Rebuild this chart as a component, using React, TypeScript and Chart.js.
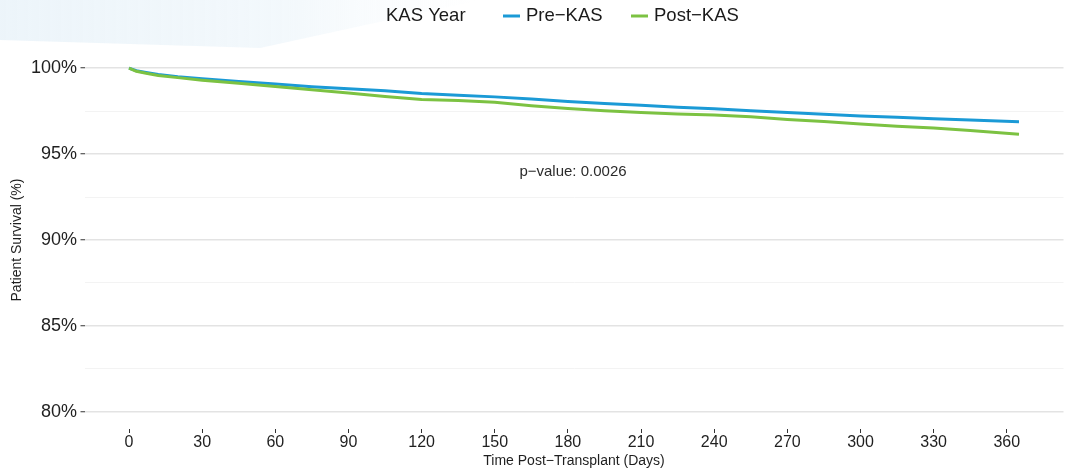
import React, { useEffect, useRef } from "react";
import { Chart, registerables } from "chart.js";

Chart.register(...registerables);

const legendTitle = "KAS Year";
const seriesNames = ["Pre−KAS", "Post−KAS"];
const seriesColors = ["#1b9ad6", "#7cc242"];

const days = [0, 3, 7, 12, 20, 30, 45, 60, 75, 90, 105, 120, 135, 150, 165, 180, 195, 210, 225, 240, 255, 270, 285, 300, 315, 330, 345, 365];
const preKas = [100, 99.85, 99.75, 99.63, 99.5, 99.39, 99.22, 99.08, 98.92, 98.8, 98.68, 98.52, 98.43, 98.33, 98.2, 98.06, 97.95, 97.84, 97.73, 97.64, 97.52, 97.42, 97.32, 97.22, 97.14, 97.06, 96.98, 96.88];
const postKas = [100, 99.82, 99.7, 99.58, 99.45, 99.3, 99.12, 98.94, 98.75, 98.55, 98.35, 98.18, 98.12, 98.02, 97.82, 97.66, 97.52, 97.42, 97.33, 97.28, 97.17, 97.02, 96.9, 96.75, 96.62, 96.52, 96.38, 96.15];

const xTicks = [0, 30, 60, 90, 120, 150, 180, 210, 240, 270, 300, 330, 360];
const yMajorTicks = [80, 85, 90, 95, 100];
const yMinorTicks = [82.5, 87.5, 92.5, 97.5];
const pValueText = "p−value: 0.0026";
const xTitle = "Time Post−Transplant (Days)";
const yTitle = "Patient Survival (%)";

const FONT = "'Liberation Sans', Arial, Helvetica, sans-serif";

const decorPlugin = {
  id: "decor",
  beforeDraw(chart: any) {
    const ctx = chart.ctx;
    ctx.save();
    const g = ctx.createLinearGradient(0, 0, 480, 0);
    g.addColorStop(0, "rgba(214,232,244,0.45)");
    g.addColorStop(0.6, "rgba(220,236,246,0.35)");
    g.addColorStop(1, "rgba(235,244,250,0)");
    ctx.fillStyle = g;
    ctx.beginPath();
    ctx.moveTo(0, 0);
    ctx.lineTo(480, 0);
    ctx.lineTo(260, 48);
    ctx.lineTo(0, 40);
    ctx.closePath();
    ctx.fill();
    ctx.restore();
  },
};

const annotPlugin = {
  id: "annot",
  afterDraw(chart: any) {
    const ctx = chart.ctx;
    ctx.save();
    ctx.textBaseline = "middle";
    ctx.textAlign = "left";
    ctx.fillStyle = "#1a1a1a";
    ctx.font = `18.5px ${FONT}`;
    ctx.fillText(legendTitle, 386, 16);
    const keyX = [503, 631];
    const labX = [526, 654];
    for (let i = 0; i < 2; i++) {
      ctx.strokeStyle = seriesColors[i];
      ctx.lineWidth = 3;
      ctx.beginPath();
      ctx.moveTo(keyX[i], 16);
      ctx.lineTo(keyX[i] + 17, 16);
      ctx.stroke();
      ctx.fillStyle = "#1a1a1a";
      ctx.fillText(seriesNames[i], labX[i], 16);
    }
    ctx.font = `15px ${FONT}`;
    ctx.fillStyle = "#2b2b2b";
    ctx.textAlign = "center";
    ctx.fillText(pValueText, 573, 172);
    ctx.restore();
  },
};

export default function App() {
  const ref = useRef<HTMLCanvasElement | null>(null);
  useEffect(() => {
    if (!ref.current) return;
    const chart = new Chart(ref.current, {
      type: "line",
      data: {
        datasets: [
          {
            label: seriesNames[0],
            data: days.map((d, i) => ({ x: d, y: preKas[i] })),
            borderColor: seriesColors[0],
            backgroundColor: seriesColors[0],
            borderWidth: 3,
            pointRadius: 0,
            tension: 0,
            order: 2,
          },
          {
            label: seriesNames[1],
            data: days.map((d, i) => ({ x: d, y: postKas[i] })),
            borderColor: seriesColors[1],
            backgroundColor: seriesColors[1],
            borderWidth: 3,
            pointRadius: 0,
            tension: 0,
            order: 1,
          },
        ],
      },
      options: {
        animation: false,
        responsive: false,
        maintainAspectRatio: false,
        layout: { padding: { left: 0, top: 51, right: 1.5, bottom: 0 } },
        plugins: { legend: { display: false }, tooltip: { enabled: false } },
        scales: {
          x: {
            type: "linear",
            min: -18.25,
            max: 383.25,
            afterBuildTicks: (s: any) => {
              s.ticks = xTicks.map((v) => ({ value: v }));
            },
            afterFit: (s: any) => {
              s.height = 41;
            },
            grid: {
              drawOnChartArea: false,
              drawTicks: true,
              tickLength: 4,
              tickColor: "#333",
              tickWidth: 1,
              color: "rgba(0,0,0,0)",
            },
            border: { display: false },
            ticks: {
              padding: 0,
              maxRotation: 0,
              autoSkip: false,
              color: "#1f1f1f",
              font: { family: FONT, size: 16 },
              callback: (v: any) => String(v),
            },
            title: {
              display: true,
              text: xTitle,
              color: "#1f1f1f",
              font: { family: FONT, size: 14 },
              padding: { top: 0, bottom: 0.6 },
            },
          },
          y: {
            type: "linear",
            min: 79,
            max: 101,
            afterBuildTicks: (s: any) => {
              s.ticks = [...yMajorTicks, ...yMinorTicks]
                .sort((a, b) => a - b)
                .map((v) => ({ value: v }));
            },
            afterFit: (s: any) => {
              s.width = 84.5;
            },
            grid: {
              drawTicks: true,
              tickLength: 4,
              color: (c: any) =>
                yMajorTicks.includes(c.tick?.value) ? "#e3e3e3" : "#f3f3f3",
              lineWidth: (c: any) => (yMajorTicks.includes(c.tick?.value) ? 1.5 : 1),
              tickColor: (c: any) =>
                yMajorTicks.includes(c.tick?.value) ? "#333" : "rgba(0,0,0,0)",
              tickWidth: 1,
            },
            border: { display: false },
            ticks: {
              padding: 3.5,
              autoSkip: false,
              color: "#1f1f1f",
              font: { family: FONT, size: 18 },
              callback: (v: any) => (yMajorTicks.includes(Number(v)) ? `${v}%` : ""),
            },
            title: {
              display: true,
              text: yTitle,
              color: "#1f1f1f",
              font: { family: FONT, size: 14 },
              padding: { top: 8.6, bottom: 0 },
            },
          },
        },
      },
      plugins: [decorPlugin, annotPlugin],
    } as any);
    return () => chart.destroy();
  }, []);
  return (
    <div style={{ position: "fixed", left: 0, top: 0, width: 1065, height: 470, background: "#fff" }}>
      <canvas ref={ref} width={1065} height={470} style={{ width: 1065, height: 470, display: "block" }} />
    </div>
  );
}
